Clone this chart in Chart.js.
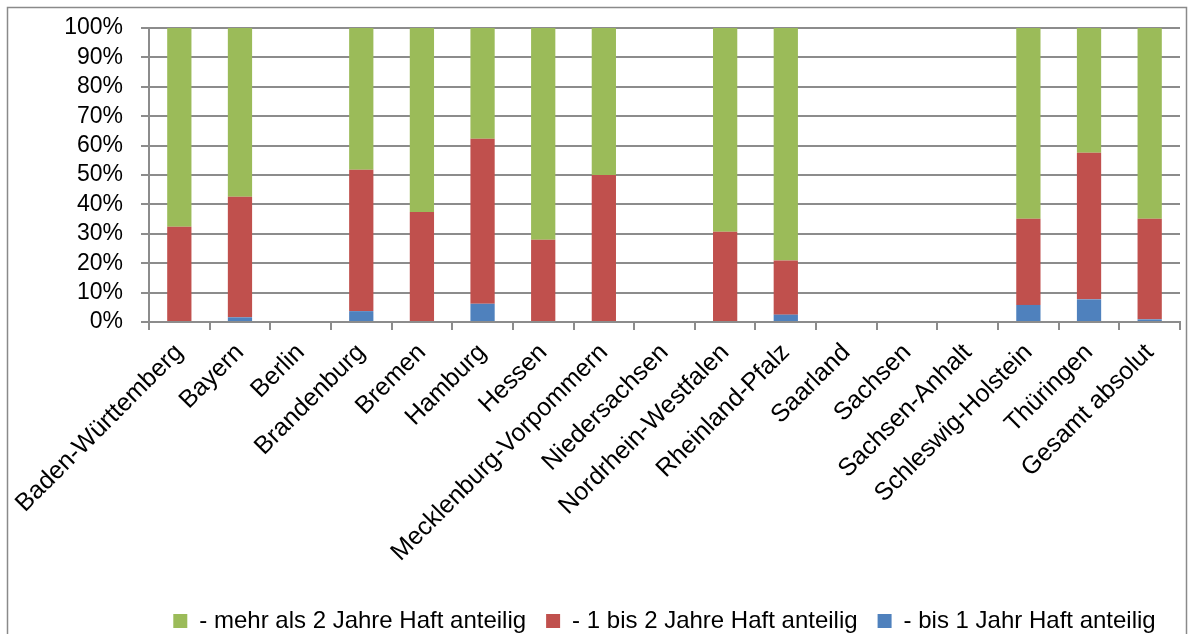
<!DOCTYPE html>
<html>
<head>
<meta charset="utf-8">
<script src="https://cdn.jsdelivr.net/npm/chart.js@4"></script>
<style>
html,body{margin:0;padding:0;background:#fff;}
#wrap{width:1189px;height:634px;position:relative;}
</style>
</head>
<body>
<div id="wrap"><canvas id="c" width="1189" height="634"></canvas></div>
<script>
const laender=[
'Baden-Württemberg','Bayern','Berlin','Brandenburg','Bremen','Hamburg','Hessen',
'Mecklenburg-Vorpommern','Niedersachsen','Nordrhein-Westfalen','Rheinland-Pfalz',
'Saarland','Sachsen','Sachsen-Anhalt','Schleswig-Holstein','Thüringen','Gesamt absolut'
];

/* anteile in % */
const bis1=[0,1.6,0,3.7,0,6.2,0,0,0,0,2.5,0,0,0,5.8,7.7,0.9];
const einsBis2=[32.4,41.0,0,48.1,37.4,56.1,28.0,50.0,0,30.7,18.4,0,0,0,29.3,49.9,34.2];
const mehr2=[67.6,57.4,0,48.2,62.6,37.7,72.0,50.0,0,69.3,79.1,0,0,0,64.9,42.4,64.9];

const yTicks=[0,10,20,30,40,50,60,70,80,90,100];

const ff="'Liberation Sans', Arial, sans-serif";

/* RAHMEN */
const rahmen={
id:'rahmen',
beforeDraw(ch){
const x=ch.ctx;
x.save();
x.strokeStyle='#8a8a8a';
x.lineWidth=1.5;
x.strokeRect(7.5,7.5,1179,640);
x.restore();
}
};

new Chart(document.getElementById('c'),{
type:'bar',
data:{
labels:laender,
datasets:[
{label:'- bis 1 Jahr Haft anteilig',data:bis1,backgroundColor:'#4f81bd'},
{label:'- 1 bis 2 Jahre Haft anteilig',data:einsBis2,backgroundColor:'#c0504d'},
{label:'- mehr als 2 Jahre Haft anteilig',data:mehr2,backgroundColor:'#9bbb59'}
]
},
options:{
responsive:false,
animation:false,
barPercentage:0.4,
categoryPercentage:1,
layout:{padding:{left:8,top:28,right:9,bottom:-9}},
plugins:{
legend:{
position:'bottom',
fullSize:false,
reverse:true,
labels:{font:{family:ff,size:24},color:'#000',boxWidth:14,boxHeight:14,padding:20}
},
tooltip:{enabled:false}
},
scales:{
x:{
stacked:true,
afterFit(ax){ax.height=267;},
grid:{offset:true,drawOnChartArea:false,drawTicks:true,tickLength:8,color:'#8c8c8c',lineWidth:2},
border:{color:'#8c8c8c',width:2},
ticks:{font:{family:ff,size:25},color:'#000',maxRotation:45,minRotation:45,autoSkip:false,padding:8}
},
y:{
stacked:true,
min:0,max:100,
afterBuildTicks(ax){ax.ticks=yTicks.map(v=>({value:v}));},
afterFit(ax){ax.width=141;ax.paddingTop=0;ax.paddingBottom=0;},
grid:{color:'#8c8c8c',lineWidth:2,tickLength:8},
border:{color:'#8c8c8c',width:2},
ticks:{font:{family:ff,size:23},color:'#000',padding:18,autoSkip:false,callback:v=>v+'%'}
}
}
},
plugins:[rahmen]
});
</script>
</body>
</html>
